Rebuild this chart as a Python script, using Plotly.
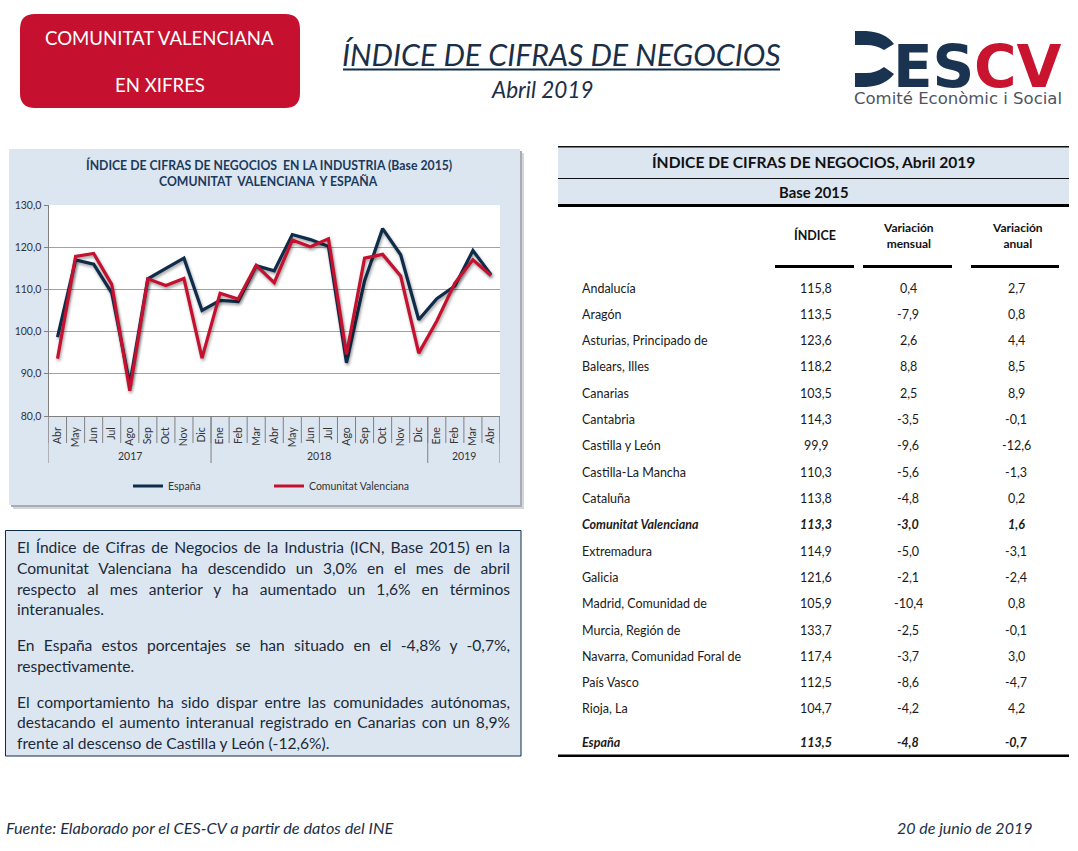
import plotly.graph_objects as go

W, H = 1078, 851
NAVY = "#0f2d4a"
RED = "#c5112f"
PANEL = "#dce6f1"
TXT = "#1a1a1a"
AXIS = "#808080"

years = ["2017"] * 9 + ["2018"] * 12 + ["2019"] * 4
months = ["Abr", "May", "Jun", "Jul", "Ago", "Sep", "Oct", "Nov", "Dic",
          "Ene", "Feb", "Mar", "Abr", "May", "Jun", "Jul", "Ago", "Sep", "Oct", "Nov", "Dic",
          "Ene", "Feb", "Mar", "Abr"]
espana = [98.7, 117.0, 116.0, 109.2, 87.5, 112.5, 115.0, 117.4, 105.0, 107.4, 107.1, 115.6, 114.4,
          123.0, 121.8, 120.2, 92.6, 112.0, 124.4, 118.2, 102.8, 107.8, 110.8, 119.2, 113.5]
valencia = [93.6, 117.8, 118.5, 111.2, 86.0, 112.5, 110.9, 112.6, 93.7, 109.1, 107.7, 115.7, 111.6,
            121.7, 120.1, 122.0, 94.6, 117.4, 118.3, 113.2, 94.9, 102.5, 111.5, 117.0, 113.3]

regions = ["Andalucía", "Aragón", "Asturias, Principado de", "Balears, Illes", "Canarias", "Cantabria",
           "Castilla y León", "Castilla-La Mancha", "Cataluña", "Comunitat Valenciana", "Extremadura",
           "Galicia", "Madrid, Comunidad de", "Murcia, Región de", "Navarra, Comunidad Foral de",
           "País Vasco", "Rioja, La", "España"]
indice = ["115,8", "113,5", "123,6", "118,2", "103,5", "114,3", "99,9", "110,3", "113,8", "113,3",
          "114,9", "121,6", "105,9", "133,7", "117,4", "112,5", "104,7", "113,5"]
mensual = ["0,4", "-7,9", "2,6", "8,8", "2,5", "-3,5", "-9,6", "-5,6", "-4,8", "-3,0",
           "-5,0", "-2,1", "-10,4", "-2,5", "-3,7", "-8,6", "-4,2", "-4,8"]
anual = ["2,7", "0,8", "4,4", "8,5", "8,9", "-0,1", "-12,6", "-1,3", "0,2", "1,6",
         "-3,1", "-2,4", "0,8", "-0,1", "3,0", "-4,7", "4,2", "-0,7"]

para_lines = [
    ("El Índice de Cifras de Negocios de la Industria (ICN, Base 2015) en la", 547, True),
    ("Comunitat Valenciana ha descendido un 3,0% en el mes de abril", 568, True),
    ("respecto al mes anterior y ha aumentado un 1,6% en términos", 589, True),
    ("interanuales.", 609, False),
    ("En España estos porcentajes se han situado en el -4,8% y -0,7%,", 645, True),
    ("respectivamente.", 666, False),
    ("El comportamiento ha sido dispar entre las comunidades autónomas,", 702, True),
    ("destacando el aumento interanual registrado en Canarias con un 8,9%", 722, True),
    ("frente al descenso de Castilla y León (-12,6%).", 743, False),
]

cats = [f"{m} {y}" for m, y in zip(months, years)]


def X(v):
    return v / W


def Y(v):
    return 1 - v / H


def rect(x0, y0, x1, y1, fill, line=None, lw=0):
    return dict(type="rect", xref="paper", yref="paper", x0=X(x0), x1=X(x1), y0=Y(y0), y1=Y(y1),
                fillcolor=fill, line=dict(color=line or fill, width=lw), layer="below")


def path(pts, fill):
    return dict(type="path", xref="paper", yref="paper", fillcolor=fill, line=dict(width=0), layer="below",
                path=" ".join(f"{c}{X(p[0]):.5f},{Y(p[1]):.5f}" if c != "Q" else
                              f"Q{X(p[0]):.5f},{Y(p[1]):.5f} {X(p[2]):.5f},{Y(p[3]):.5f}" for c, p in pts) + " Z")


def text(s, x, y, size, color=TXT, anchor="left", family="Lato"):
    return dict(text=s, x=X(x), y=Y(y), xref="paper", yref="paper", showarrow=False, xanchor=anchor,
                yanchor="middle", align=anchor, borderpad=0, borderwidth=0,
                font=dict(size=size, color=color, family=family))


def vline(i, y0, y1):
    return dict(type="line", xref="x", yref="paper", x0=i - 0.5, x1=i - 0.5, y0=Y(y0), y1=Y(y1),
                line=dict(color=AXIS, width=1))


bx0, by0, bx1, by1, r = 20, 14, 300, 108, 15
badge = path([("M", (bx0 + r, by0)), ("L", (bx1 - r, by0)), ("Q", (bx1, by0, bx1, by0 + r)),
              ("L", (bx1, by1 - r)), ("Q", (bx1, by1, bx1 - r, by1)), ("L", (bx0 + r, by1)),
              ("Q", (bx0, by1, bx0, by1 - r)), ("L", (bx0, by0 + r)), ("Q", (bx0, by0, bx0 + r, by0))], RED)

logo_top = path([("M", (855, 31)), ("L", (866, 31)), ("Q", (885, 32, 894, 44)), ("L", (884, 50)),
                 ("Q", (876, 45, 866, 45)), ("L", (855, 45))], "#1a3350")
logo_bot = path([("M", (855, 73)), ("L", (866, 73)), ("Q", (876, 73, 884, 67)), ("L", (894, 74)),
                 ("Q", (885, 86, 866, 87)), ("L", (855, 87))], "#1a3350")

shapes = [
    badge, logo_top, logo_bot,
    rect(343, 68.5, 780, 70.5, NAVY),
    rect(13, 153, 524, 509, "#d4d6d9"),
    rect(11, 151, 522, 507, "#a9adb3"),
    rect(9, 149, 520, 505, PANEL),
    rect(48.5, 205, 500, 416, "white"),
    rect(5.5, 530.5, 521, 756, PANEL, NAVY, 1),
    rect(558, 147, 1069, 204, PANEL),
    rect(558, 146, 1069, 147.5, "#111111"),
    rect(558, 178, 1069, 179, "#111111"),
    rect(558, 204, 1069, 207, "#000000"),
    rect(775, 265, 854, 268, "#000000"),
    rect(863, 265, 952, 268, "#000000"),
    rect(971, 265, 1059, 268, "#000000"),
    rect(558, 754.5, 1069, 757, "#000000"),
]

ann = [
    text("COMUNITAT VALENCIANA", 159.5, 38, 18.6, "white", "center"),
    text("EN XIFRES", 159.5, 85, 18.6, "white", "center"),
    text("<i>ÍNDICE DE CIFRAS DE NEGOCIOS</i>", 561.5, 54, 30.3, "#1b2f48", "center"),
    text("<i>Abril 2019</i>", 542, 90, 22.5, "#1b2f48", "center"),
    text("<b>ES</b>", 893, 67, 58, "#1a3350", "left", "DejaVu Sans"),
    text("<b>CV</b>", 974, 67, 58, "#c8142f", "left", "DejaVu Sans"),
    text("Comité Econòmic i Social", 854, 98.5, 16.5, "#4d5560", "left", "DejaVu Sans"),
    text("<b>ÍNDICE DE CIFRAS DE NEGOCIOS  EN LA INDUSTRIA (Base 2015)</b>", 268.5, 165, 12.25, "#1b3a5c", "center"),
    text("<b>COMUNITAT  VALENCIANA  Y ESPAÑA</b>", 268.5, 181, 12.25, "#1b3a5c", "center"),
    text("<b>ÍNDICE DE CIFRAS DE NEGOCIOS, Abril 2019</b>", 813, 162, 15.6, "#111111", "center"),
    text("<b>Base 2015</b>", 813, 192, 14.8, "#111111", "center"),
    text("<b>ÍNDICE</b>", 815, 235, 12.5, "#111111", "center"),
    text("<b>Variación<br>mensual</b>", 908, 235, 12, "#111111", "center"),
    text("<b>Variación<br>anual</b>", 1017, 235, 12, "#111111", "center"),
    text("<i>Fuente: Elaborado por el CES-CV a partir de datos del INE</i>", 6, 827, 16.3, "#1b2f48"),
    text("<i>20 de junio de 2019</i>", 897, 827, 16, "#1b2f48"),
]

for line, y, _ in para_lines:
    ann.append(text(line, 17, y, 15.6, "#1a2a3a"))

for i, name in enumerate(regions):
    y = 288 + 26.31 * i if name != "España" else 742
    bold = name in ("Comunitat Valenciana", "España")
    fmt = (lambda s: f"<b><i>{s}</i></b>") if bold else (lambda s: s)
    ann.append(text(fmt(name), 582, y, 12.5, TXT))
    ann.append(text(fmt(indice[i]), 816, y, 12.5, TXT, "center"))
    ann.append(text(fmt(mensual[i]), 908, y, 12.5, TXT, "center"))
    ann.append(text(fmt(anual[i]), 1016, y, 12.5, TXT, "center"))

for i in range(len(cats) + 1):
    shapes.append(vline(i, 416, 443))
for yr in sorted(set(years)):
    idx = [i for i, v in enumerate(years) if v == yr]
    shapes.append(vline(idx[0], 416, 463))
    ann.append(dict(text=yr, x=sum(idx) / len(idx), y=Y(456), xref="x", yref="paper", showarrow=False,
                    xanchor="center", yanchor="middle", borderpad=0,
                    font=dict(size=10.5, color="#333333", family="Lato")))
shapes.append(vline(len(cats), 416, 463))

fig = go.Figure()
fig.add_trace(go.Scatter(x=cats, y=espana, name="España", mode="lines", legend="legend", showlegend=True,
                         line=dict(color=NAVY, width=3.2, shape="linear")))
fig.add_trace(go.Scatter(x=cats, y=valencia, name="Comunitat Valenciana", mode="lines", legend="legend2",
                         showlegend=True, line=dict(color=RED, width=3.2, shape="linear")))

legend_style = dict(orientation="h", xanchor="left", yanchor="middle", itemwidth=30, bgcolor="rgba(0,0,0,0)",
                    font=dict(size=10.5, color="#333333", family="Lato"), itemclick=False, itemdoubleclick=False)

fig.update_layout(
    width=W, height=H, autosize=False,
    margin=dict(l=0, r=0, t=0, b=0, autoexpand=False),
    paper_bgcolor="white", plot_bgcolor="white",
    separators=", ",
    font=dict(family="Lato", color="#333333", size=10.5),
    hovermode=False,
    showlegend=True,
    shapes=shapes, annotations=ann,
    legend=dict(x=X(128), y=Y(486), **legend_style),
    legend2=dict(x=X(269), y=Y(486), **legend_style),
    xaxis=dict(domain=[X(48.5), X(500)], type="category", range=[-0.5, len(cats) - 0.5],
               tickmode="array", tickvals=cats, ticktext=months, tickangle=-90,
               ticks="outside", ticklen=6, tickcolor="rgba(0,0,0,0)",
               linecolor=AXIS, showline=True, showgrid=False,
               tickfont=dict(size=10.5, color="#333333", family="Lato"), fixedrange=True),
    yaxis=dict(domain=[Y(416), Y(205)], range=[80, 130], dtick=10, tickformat=".1f", ticks="outside", ticklen=4,
               tickcolor=AXIS, linecolor=AXIS, showline=True, gridcolor="#8fa8b4", gridwidth=1,
               tickfont=dict(size=10.5, color="#333333", family="Lato"), fixedrange=True, zeroline=False),
)

post = """
document.body.style.margin='0';
document.documentElement.style.overflow='hidden';
var g=document.querySelector('.plotly-graph-div');
g.querySelectorAll('.scatterlayer .trace').forEach(function(t){t.style.filter='drop-shadow(1.5px 2px 1.5px rgba(0,0,0,.38))';});
var just=%s;
g.querySelectorAll('.annotation-text').forEach(function(t){
  if(just.indexOf(t.textContent)<0) return;
  var n=t.textContent.split(' ').length-1;
  var w=t.getComputedTextLength();
  t.style.wordSpacing=((493-w)/n)+'px';
});
""" % repr([l for l, _, j in para_lines if j])

fig.write_html("out.html", post_script=post, config=dict(displayModeBar=False))
